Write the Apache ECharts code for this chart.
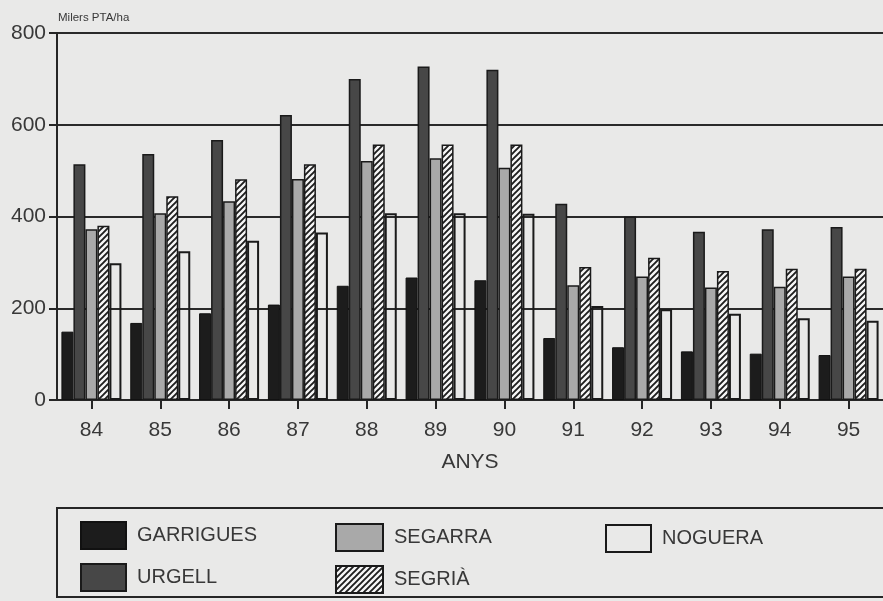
<!DOCTYPE html>
<html>
<head>
<meta charset="utf-8">
<script src="https://cdn.jsdelivr.net/npm/echarts@6/dist/echarts.min.js"></script>
<style>
html,body{margin:0;padding:0;background:#e9e9e8;}
#chart{width:883px;height:601px;}
</style>
</head>
<body>
<div id="chart"></div>
<script>
const categories = ['84','85','86','87','88','89','90','91','92','93','94','95'];
const garrigues = [149,168,189,208,249,267,261,135,115,106,101,98];
const urgell    = [514,536,567,621,700,727,720,428,400,367,372,377];
const segarra   = [372,407,433,482,521,527,506,250,269,245,247,269];
const segria    = [380,444,481,514,557,557,557,290,310,281,286,286];
const noguera   = [298,324,347,365,407,407,406,205,198,188,178,173];
const yMin = 0, yMax = 800, yStep = 200;
const yUnit = 'Milers PTA/ha';
const xName = 'ANYS';

function hatch(){
  const s = 6;
  const c = document.createElement('canvas');
  c.width = s; c.height = s;
  const g = c.getContext('2d');
  g.fillStyle = '#f6f6f6';
  g.fillRect(0,0,s,s);
  g.strokeStyle = '#1e1e1e';
  g.lineWidth = 1.9;
  g.beginPath();
  g.moveTo(0,s); g.lineTo(s,0);
  g.moveTo(-s,s); g.lineTo(s,-s);
  g.moveTo(0,2*s); g.lineTo(2*s,0);
  g.stroke();
  return c;
}

const chart = echarts.init(document.getElementById('chart'), null, {renderer:'canvas'});
const ink = '#262626';
const txt = '#383838';
const font = '"Liberation Sans", Arial, sans-serif';
const base = {type:'bar', barWidth:12, barGap:'0%', animation:false};

function leg(name, left, top, w){
  return {left:left, top:top, padding:0, orient:'vertical', itemWidth:w, itemHeight:27, icon:'rect',
    selectedMode:false,
    textStyle:{fontSize:20, color:txt, fontFamily:font, padding:[0,0,0,6]}, data:[name]};
}

chart.setOption({
  backgroundColor:'#e9e9e8',
  textStyle:{fontFamily:font},
  grid:{left:57, top:33, height:367, width:828},
  xAxis:{
    type:'category', data:categories,
    axisLine:{lineStyle:{color:ink, width:2}},
    axisTick:{show:true, alignWithLabel:true, length:9, lineStyle:{color:ink, width:2}},
    axisLabel:{color:txt, fontSize:21, margin:20, fontFamily:font},
    name:xName, nameLocation:'middle', nameGap:52,
    nameTextStyle:{color:txt, fontSize:21, fontFamily:font}
  },
  yAxis:{
    type:'value', min:yMin, max:yMax, interval:yStep,
    axisLine:{show:true, lineStyle:{color:ink, width:2}},
    axisTick:{show:true, length:8, lineStyle:{color:ink, width:2}},
    axisLabel:{color:txt, fontSize:21, margin:11, fontFamily:font},
    splitLine:{show:true, lineStyle:{color:'#2a2a2a', width:2}}
  },
  legend:[
    leg('GARRIGUES', 80, 521, 45),
    leg('URGELL', 80, 563, 45),
    leg('SEGARRA', 335, 523, 47),
    leg('SEGRIÀ', 335, 565, 47),
    leg('NOGUERA', 605, 524, 45)
  ],
  graphic:[
    {type:'text', left:58, top:12, style:{text:yUnit, fontSize:11.5, fill:txt, fontFamily:font}},
    {type:'rect', shape:{x:57, y:508, width:840, height:89}, style:{fill:'none', stroke:ink, lineWidth:2}, z:-1}
  ],
  series:[
    Object.assign({name:'GARRIGUES', data:garrigues, itemStyle:{color:'#1c1c1c', borderColor:'#111', borderWidth:1}}, base),
    Object.assign({name:'URGELL', data:urgell, itemStyle:{color:'#474747', borderColor:'#1a1a1a', borderWidth:1.5}}, base),
    Object.assign({name:'SEGARRA', data:segarra, itemStyle:{color:'#a9a9a9', borderColor:'#1a1a1a', borderWidth:1.5}}, base),
    Object.assign({name:'SEGRIÀ', data:segria, itemStyle:{color:{image:hatch(), repeat:'repeat'}, borderColor:'#1a1a1a', borderWidth:1.5}}, base),
    Object.assign({name:'NOGUERA', data:noguera, itemStyle:{color:'rgba(255,255,255,0)', borderColor:'#1a1a1a', borderWidth:2}}, base)
  ]
});
</script>
</body>
</html>
